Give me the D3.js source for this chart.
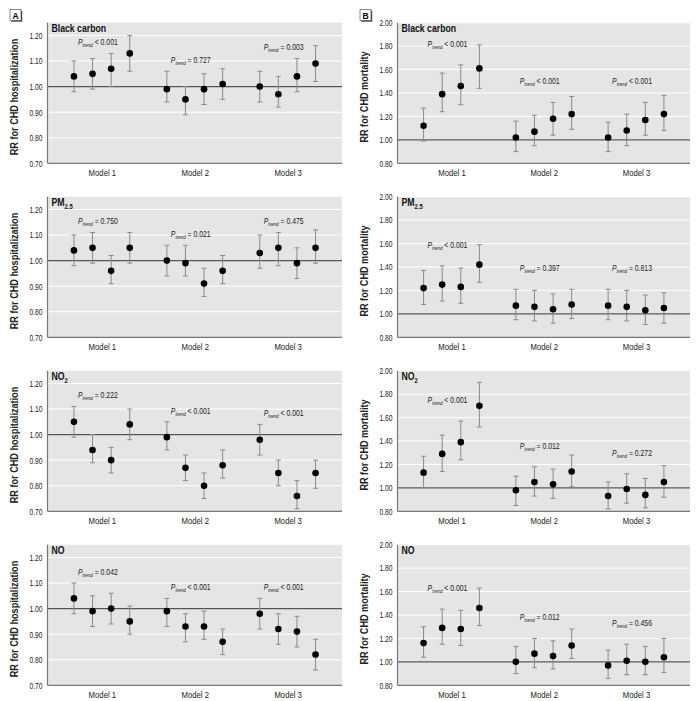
<!DOCTYPE html>
<html>
<head>
<meta charset="utf-8">
<script src="https://cdn.jsdelivr.net/npm/d3@7"></script>
<style>
  body { margin: 0; background: #fff; }
  svg { display: block; font-family: "Liberation Sans", Arial, sans-serif; }
</style>
</head>
<body>
<svg id="chart" width="696" height="701"></svg>
<script>
const models = ["Model 1", "Model 2", "Model 3"];
const quartiles = ["Q1", "Q2", "Q3", "Q4"];
const pollutantNames = ["Black carbon", "PM", "NO", "NO"];
const pollutantSubs = ["", "2.5", "2", ""];

// hospitalization RR (rows: black carbon, PM2.5, NO2, NO; 3 models x 4 quartiles)
const hospRR = [
  [1.04, 1.05, 1.07, 1.13, 0.99, 0.95, 0.99, 1.01, 1.00, 0.97, 1.04, 1.09],
  [1.04, 1.05, 0.96, 1.05, 1.00, 0.99, 0.91, 0.96, 1.03, 1.05, 0.99, 1.05],
  [1.05, 0.94, 0.90, 1.04, 0.99, 0.87, 0.80, 0.88, 0.98, 0.85, 0.76, 0.85],
  [1.04, 0.99, 1.00, 0.95, 0.99, 0.93, 0.93, 0.87, 0.98, 0.92, 0.91, 0.82]
];
const hospLo = [
  [0.98, 0.99, 1.00, 1.06, 0.94, 0.89, 0.93, 0.95, 0.94, 0.92, 0.98, 1.02],
  [0.98, 0.99, 0.91, 0.99, 0.94, 0.94, 0.86, 0.91, 0.97, 0.98, 0.93, 0.99],
  [0.99, 0.89, 0.85, 0.98, 0.94, 0.82, 0.75, 0.83, 0.92, 0.80, 0.71, 0.79],
  [0.98, 0.93, 0.94, 0.90, 0.93, 0.87, 0.88, 0.82, 0.92, 0.86, 0.85, 0.76]
];
const hospHi = [
  [1.10, 1.11, 1.13, 1.20, 1.06, 1.00, 1.05, 1.07, 1.06, 1.04, 1.11, 1.16],
  [1.10, 1.11, 1.02, 1.11, 1.06, 1.06, 0.97, 1.02, 1.10, 1.11, 1.05, 1.12],
  [1.11, 1.00, 0.95, 1.10, 1.05, 0.92, 0.85, 0.94, 1.04, 0.90, 0.82, 0.90],
  [1.10, 1.05, 1.06, 1.01, 1.04, 0.98, 0.99, 0.92, 1.04, 0.98, 0.97, 0.88]
];
const hospP = [
  ["< 0.001", "= 0.727", "= 0.003"],
  ["= 0.750", "= 0.021", "= 0.475"],
  ["= 0.222", "< 0.001", "< 0.001"],
  ["= 0.042", "< 0.001", "< 0.001"]
];

// mortality RR
const mortRR = [
  [1.12, 1.39, 1.46, 1.61, 1.02, 1.07, 1.18, 1.22, 1.02, 1.08, 1.17, 1.22],
  [1.22, 1.25, 1.23, 1.42, 1.07, 1.06, 1.04, 1.08, 1.07, 1.06, 1.03, 1.05],
  [1.13, 1.29, 1.39, 1.70, 0.98, 1.05, 1.03, 1.14, 0.93, 0.99, 0.94, 1.05],
  [1.16, 1.29, 1.28, 1.46, 1.00, 1.07, 1.05, 1.14, 0.97, 1.01, 1.00, 1.04]
];
const mortLo = [
  [0.99, 1.24, 1.30, 1.44, 0.90, 0.95, 1.04, 1.09, 0.90, 0.95, 1.04, 1.08],
  [1.08, 1.11, 1.09, 1.27, 0.95, 0.94, 0.92, 0.96, 0.95, 0.94, 0.91, 0.92],
  [1.00, 1.14, 1.24, 1.52, 0.85, 0.93, 0.91, 1.01, 0.82, 0.87, 0.83, 0.92],
  [1.04, 1.15, 1.14, 1.31, 0.90, 0.95, 0.94, 1.03, 0.86, 0.89, 0.89, 0.91]
];
const mortHi = [
  [1.27, 1.57, 1.64, 1.81, 1.16, 1.21, 1.32, 1.37, 1.15, 1.22, 1.32, 1.38],
  [1.37, 1.41, 1.39, 1.59, 1.21, 1.20, 1.17, 1.21, 1.21, 1.20, 1.16, 1.18],
  [1.27, 1.45, 1.57, 1.90, 1.10, 1.18, 1.16, 1.28, 1.05, 1.12, 1.08, 1.19],
  [1.30, 1.45, 1.44, 1.63, 1.13, 1.20, 1.18, 1.28, 1.10, 1.15, 1.13, 1.20]
];
const mortP = [
  ["< 0.001", "< 0.001", "< 0.001"],
  ["< 0.001", "= 0.397", "= 0.813"],
  ["< 0.001", "= 0.012", "= 0.272"],
  ["< 0.001", "= 0.012", "= 0.456"]
];

const hospTicks = [0.70, 0.80, 0.90, 1.00, 1.10, 1.20];
const mortTicks = [0.80, 1.00, 1.20, 1.40, 1.60, 1.80, 2.00];

const svg = d3.select("#chart");
const rowStep = 174;
const plotTop = 22.7;
const plotH = 140.6;

// condensed look: squeeze text horizontally
function sText(parent, x, y, sx, rot) {
  return parent.append("text")
    .attr("transform", `translate(${x},${y})${rot ? " rotate(" + rot + ")" : ""} scale(${sx},1)`);
}

const columns = [
  { letter: "A", left: 47.5, right: 342, rr: hospRR, lo: hospLo, hi: hospHi, p: hospP,
    domain: [0.70, 1.25], ticks: hospTicks, title: "RR for CHD hospitalization", pOff: 8 },
  { letter: "B", left: 397.5, right: 690, rr: mortRR, lo: mortLo, hi: mortHi, p: mortP,
    domain: [0.80, 2.00], ticks: mortTicks, title: "RR for CHD mortality", pOff: 18 }
];

columns.forEach(function (col) {
  // panel letter box
  const bx = col.left - 37.5;
  const lb = svg.append("g").attr("transform", `translate(${bx},9.5)`);
  lb.append("rect").attr("x", 1.2).attr("y", 1.2).attr("width", 11).attr("height", 11).attr("fill", "#444");
  lb.append("rect").attr("width", 11).attr("height", 11).attr("fill", "#fff").attr("stroke", "#444").attr("stroke-width", 0.6);
  sText(lb, 5.5, 9, 0.9).attr("text-anchor", "middle")
    .attr("font-size", 9.5).attr("font-weight", "bold").text(col.letter);

  const x0 = d3.scalePoint().domain(models).range([col.left, col.right]).padding(0.585);
  const x1 = d3.scalePoint().domain(quartiles).range([-27.9, 27.9]);

  pollutantNames.forEach(function (name, ri) {
    const top = plotTop + ri * rowStep;
    const y = d3.scaleLinear().domain(col.domain).range([top + plotH, top]);
    const g = svg.append("g");

    g.append("rect").attr("x", col.left).attr("y", top)
      .attr("width", col.right - col.left).attr("height", plotH).attr("fill", "#e5e5e5");

    g.selectAll(".grid").data(col.ticks.slice(1)).enter().append("line")
      .attr("x1", col.left).attr("x2", col.right)
      .attr("y1", (d) => y(d)).attr("y2", (d) => y(d))
      .attr("stroke", "#fff").attr("stroke-width", 1);

    // reference line at 1.00
    g.append("line").attr("x1", col.left).attr("x2", col.right)
      .attr("y1", y(1)).attr("y2", y(1)).attr("stroke", "#555").attr("stroke-width", 1.2);

    // y axis
    const ya = g.append("g").attr("transform", `translate(${col.left},0)`)
      .call(d3.axisLeft(y).tickValues(col.ticks).tickFormat(d3.format(".2f")).tickSize(0).tickPadding(5));
    ya.attr("font-family", null).attr("font-size", null);
    ya.select(".domain").remove();
    ya.selectAll("text").attr("font-size", 8.8).attr("fill", "#222")
      .attr("transform", "scale(0.76,1)").attr("x", -5 / 0.76);
    g.append("line").attr("x1", col.left).attr("x2", col.left).attr("y1", top).attr("y2", top + plotH)
      .attr("stroke", "#777").attr("stroke-width", 1.2);

    // x axis
    const xa = g.append("g").attr("transform", `translate(0,${top + plotH})`)
      .call(d3.axisBottom(x0).tickSize(0).tickPadding(6));
    xa.attr("font-family", null).attr("font-size", null);
    xa.select(".domain").remove();
    xa.selectAll("text").attr("font-size", 8.8).attr("fill", "#222").attr("transform", "scale(0.88,1)");
    g.append("line").attr("x1", col.left).attr("x2", col.right).attr("y1", top + plotH).attr("y2", top + plotH)
      .attr("stroke", "#777").attr("stroke-width", 1.2);

    // y title
    sText(g, col.left - 30, top + plotH / 2 + 4, 0.83, -90)
      .attr("text-anchor", "middle").attr("font-size", 11).attr("font-weight", "bold")
      .attr("fill", "#222").text(col.title);

    // panel title
    const t = sText(g, col.left + 4, top + 9, 0.83)
      .attr("font-size", 10.5).attr("font-weight", "bold").attr("fill", "#111");
    t.append("tspan").text(name);
    if (pollutantSubs[ri]) {
      t.append("tspan").attr("dy", 3).attr("font-size", 7).text(pollutantSubs[ri]);
    }

    const pts = col.rr[ri].map(function (v, i) {
      return { model: models[Math.floor(i / 4)], q: quartiles[i % 4], rr: v, lo: col.lo[ri][i], hi: col.hi[ri][i] };
    });
    const px = (d) => x0(d.model) + x1(d.q);

    g.selectAll(".bar").data(pts).enter().append("line")
      .attr("x1", px).attr("x2", px)
      .attr("y1", (d) => y(d.lo)).attr("y2", (d) => y(d.hi))
      .attr("stroke", "#8a8a8a").attr("stroke-width", 1);
    ["lo", "hi"].forEach(function (k) {
      g.selectAll(".cap-" + k).data(pts).enter().append("line")
        .attr("x1", (d) => px(d) - 2.5).attr("x2", (d) => px(d) + 2.5)
        .attr("y1", (d) => y(d[k])).attr("y2", (d) => y(d[k]))
        .attr("stroke", "#8a8a8a").attr("stroke-width", 1);
    });
    g.selectAll(".pt").data(pts).enter().append("circle")
      .attr("cx", px).attr("cy", (d) => y(d.rr)).attr("r", 3.3).attr("fill", "#000");

    // P trend labels
    models.forEach(function (m, mi) {
      const group = pts.filter((d) => d.model === m);
      const maxHi = d3.max(group.slice(0, 3), (d) => d.hi);
      const lab = sText(g, px(group[0]) + 4, y(maxHi) - col.pOff, 0.78)
        .attr("font-size", 8.8).attr("fill", "#222");
      lab.append("tspan").attr("font-style", "italic").text("P");
      lab.append("tspan").attr("font-style", "italic").attr("font-size", 5.8).attr("dy", 2).text("trend");
      lab.append("tspan").attr("dy", -2).text(" " + col.p[ri][mi]);
    });
  });
});
</script>
</body>
</html>
